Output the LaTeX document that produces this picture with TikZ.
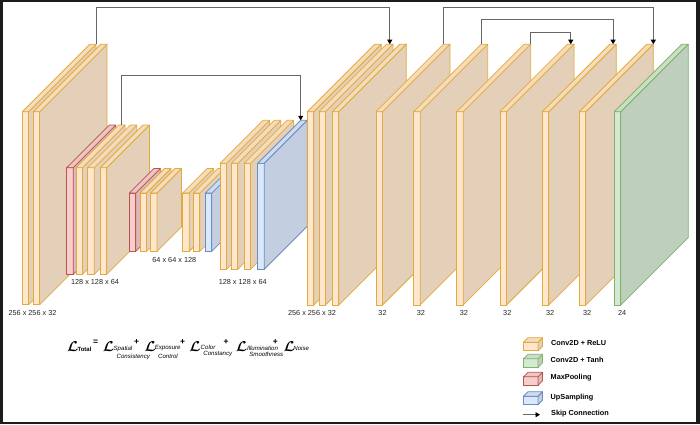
\documentclass[tikz,border=0pt]{standalone}
\usepackage{fontspec}
\setmainfont{Liberation Sans}
\usetikzlibrary{arrows.meta,calc,positioning}
\definecolor{framecol}{HTML}{1C1C1C}
\definecolor{relufront}{HTML}{FFE6CC}
\definecolor{reluside}{HTML}{E4D0B9}
\definecolor{relutop}{HTML}{F7DBBB}
\definecolor{reluline}{HTML}{E0AC40}
\definecolor{tanhfront}{HTML}{D5E8D4}
\definecolor{tanhside}{HTML}{BED0BD}
\definecolor{tanhtop}{HTML}{CBDEC9}
\definecolor{tanhline}{HTML}{82B366}
\definecolor{poolfront}{HTML}{F8CECC}
\definecolor{poolside}{HTML}{DDB8B6}
\definecolor{pooltop}{HTML}{EDC5C3}
\definecolor{poolline}{HTML}{B85450}
\definecolor{upfront}{HTML}{DAE8FC}
\definecolor{upside}{HTML}{C3CEE0}
\definecolor{uptop}{HTML}{CEDCF0}
\definecolor{upline}{HTML}{6C8EBF}
\tikzset{
  slabfront/.style={
    anchor=north west,
    inner sep=0pt,
    outer sep=0pt,
    line width=0.75pt
  },
  slabedge/.style={
    line width=0.75pt,
    line join=round
  },
  skip/.style={
    -{Triangle[length=4.5pt,width=5pt,color=black]},
    draw=black!60,
    line width=0.8pt
  },
  dim/.style={
    text=black!85,
    inner sep=0pt,
    font=\fontsize{7.3}{8}\selectfont
  },
  keytext/.style={
    anchor=west,
    inner sep=0pt,
    font=\bfseries\fontsize{7.3}{8}\selectfont
  },
  lossL/.style={
    inner sep=0pt,
    font=\fontsize{14.5}{15}\selectfont\boldmath
  },
  losssub/.style={
    inner sep=0pt,
    font=\itshape\fontsize{6.1}{7}\selectfont
  },
  lossop/.style={
    inner sep=0pt,
    font=\bfseries\fontsize{8.5}{9}\selectfont
  }
}
% name, kind, x, y, width, height, depth
\newcommand{\convslab}[7]{%
  \node[slabfront, draw=#2line, fill=#2front,
    minimum width=#5pt, minimum height=#6pt] (#1) at (#3,#4) {};
  \filldraw[slabedge, draw=#2line, fill=#2side]
    (#1.north east) -- ++(#7,-#7) -- ++(0,#6) -- (#1.south east) -- cycle;
  \filldraw[slabedge, draw=#2line, fill=#2top]
    (#1.north west) -- ++(#7,-#7) -- ++(#5,0) -- (#1.north east) -- cycle;
  \coordinate (#1-back) at ($(#1.north)+(#7,-#7)$);
  \coordinate (#1-backl) at ($(#1.north west)+(#7,-#7)$);
  \coordinate (#1-backr) at ($(#1.north east)+(#7,-#7)$);
}

\begin{document}
\begin{tikzpicture}[x=1pt,y=-1pt]
  \fill[framecol] (0,0) rectangle (700,424);
  \fill[white] (3,1.5) rectangle (696,422);
  \useasboundingbox (0,0) rectangle (700,424);

  % encoder
  \convslab{e1a}{relu}{22.3}{111.7}{6.3}{193}{67.5}
  \convslab{e1b}{relu}{33.3}{111.7}{6.3}{193}{67.5}
  \convslab{p1}{pool}{66.7}{167.7}{6.5}{106.7}{42.6}
  \convslab{e2a}{relu}{76}{167.7}{6.5}{106.7}{42.6}
  \convslab{e2b}{relu}{87.7}{167.7}{6.5}{106.7}{42.6}
  \convslab{e2c}{relu}{100.3}{167.7}{6.5}{106.7}{42.6}
  \convslab{p2}{pool}{129.3}{193}{6.5}{58.3}{24.5}
  \convslab{e3a}{relu}{140}{193}{6.5}{58.3}{24.5}
  \convslab{e3b}{relu}{150.5}{193}{6.5}{58.3}{24.5}

  % decoder
  \convslab{d3a}{relu}{182.7}{193}{6.5}{58.3}{24.5}
  \convslab{d3b}{relu}{193.3}{193}{6.5}{58.3}{24.5}
  \convslab{u1}{up}{205.3}{193}{6.5}{58.3}{24.5}
  \convslab{d2a}{relu}{220}{163.3}{6.5}{106}{43}
  \convslab{d2b}{relu}{231.3}{163.3}{6.5}{106}{43}
  \convslab{d2c}{relu}{244}{163.3}{6.5}{106}{43}
  \convslab{u2}{up}{257.7}{163.3}{6.5}{106}{43}
  \convslab{d1a}{relu}{307.3}{111.7}{6.5}{193.3}{67.5}
  \convslab{d1b}{relu}{319}{111.7}{6.5}{193.3}{67.5}
  \convslab{d1c}{relu}{332.3}{111.7}{6.5}{193.3}{67.5}

  % plain conv layers
  \convslab{c1}{relu}{376}{111.7}{6.5}{193.3}{67.5}
  \convslab{c2}{relu}{413.7}{111.7}{6.5}{193.3}{67.5}
  \convslab{c3}{relu}{456.7}{111.7}{6.5}{193.3}{67.5}
  \convslab{c4}{relu}{500}{111.7}{6.5}{193.3}{67.5}
  \convslab{c5}{relu}{542.3}{111.7}{6.5}{193.3}{67.5}
  \convslab{c6}{relu}{579.3}{111.7}{6.5}{193.3}{67.5}
  \convslab{out}{tanh}{614.3}{111.7}{6.5}{193.3}{67.5}

  % skip connections
  \draw[skip] (e1a-backr) -- ++(0,-37.3) -| (d1b-back);
  \draw[skip] (e2a-back) -- ++(0,-49.4) -| (u2-backl);
  \draw[skip] (c1-backl) -- ++(0,-37.3) -| (c6-backr);
  \draw[skip] (c2-backl) -- ++(0,-24.7) -| (c5-back);
  \draw[skip] (c3-backr) -- ++(0,-12.3) -| (c4-back);

  % sizes
  \node[dim] (lbl-e1) at (32.5,313) {256 x 256 x 32};
  \node[dim] (lbl-e2) at (95,281.7) {128 x 128 x 64};
  \node[dim] (lbl-e3) at (174.3,260.3) {64 x 64 x 128};
  \node[dim] (lbl-d2) at (242.7,281.7) {128 x 128 x 64};
  \node[dim] (lbl-d1) at (312,313) {256 x 256 x 32};
  \node[dim] (lbl-c1) at ([shift={(3.3,8.3)}]c1.south) {32};
  \node[dim] (lbl-c2) at ([shift={(4,8.3)}]c2.south) {32};
  \node[dim] (lbl-c3) at ([shift={(4,8.3)}]c3.south) {32};
  \node[dim] (lbl-c4) at ([shift={(4,8.3)}]c4.south) {32};
  \node[dim] (lbl-c5) at ([shift={(4.5,8.3)}]c5.south) {32};
  \node[dim] (lbl-c6) at ([shift={(4.5,8.3)}]c6.south) {32};
  \node[dim] (lbl-out) at ([shift={(4.5,8.3)}]out.south) {24};

  % loss
  \node[lossL] (l-tot) at (72.8,346.7) {$\mathcal{L}$};
  \node[inner sep=0pt, font=\bfseries\fontsize{6}{7}\selectfont] (s-tot) at (84.5,349) {Total};
  \node[lossop] (eq) at (95.5,342.7) {=};
  \node[lossL] (l-spa) at (108.5,346.7) {$\mathcal{L}$};
  \node[losssub] (s-spa1) at (123,349) {Spatial};
  \node[losssub] (s-spa2) at (133.3,356.7) {Consistency};
  \node[lossop] (plus1) at (136.7,341.7) {+};
  \node[lossL] (l-exp) at (150.3,346.7) {$\mathcal{L}$};
  \node[losssub] (s-exp1) at (167.7,347.7) {Exposure};
  \node[losssub] (s-exp2) at (168,356.7) {Control};
  \node[lossop] (plus2) at (182.7,341.7) {+};
  \node[lossL] (l-col) at (195,346.7) {$\mathcal{L}$};
  \node[losssub] (s-col1) at (208,347) {Color};
  \node[losssub] (s-col2) at (217.8,354) {Constancy};
  \node[lossop] (plus3) at (226,341.7) {+};
  \node[lossL] (l-ill) at (241.5,346.7) {$\mathcal{L}$};
  \node[losssub] (s-ill1) at (262.5,348.3) {Illumination};
  \node[losssub] (s-ill2) at (266.3,354) {Smoothness};
  \node[lossop] (plus4) at (275.3,341.7) {+};
  \node[lossL] (l-noi) at (289.2,346.7) {$\mathcal{L}$};
  \node[losssub] (s-noi) at (301.2,348.3) {Noise};

  % legend
  \convslab{key-relu}{relu}{523.5}{342.2}{14.5}{8.5}{4.5}
  \convslab{key-tanh}{tanh}{523.5}{358.8}{14.5}{8.5}{4.5}
  \convslab{key-pool}{pool}{523.5}{376.8}{14.5}{8.5}{4.5}
  \convslab{key-up}{up}{523.5}{396.2}{14.5}{8.5}{4.5}
  \node[keytext] (t-relu) at (551,342.7) {Conv2D + ReLU};
  \node[keytext] (t-tanh) at (550.5,360.3) {Conv2D + Tanh};
  \node[keytext] (t-pool) at (550.5,378) {MaxPooling};
  \node[keytext] (t-up) at (550.5,397.7) {UpSampling};
  \coordinate (k-skipa) at (523.3,414.7);
  \coordinate (k-skipb) at (540,414.7);
  \draw[skip] (k-skipa) -- (k-skipb);
  \node[keytext] (t-skip) at (551,414) {Skip Connection};
\end{tikzpicture}
\end{document}
